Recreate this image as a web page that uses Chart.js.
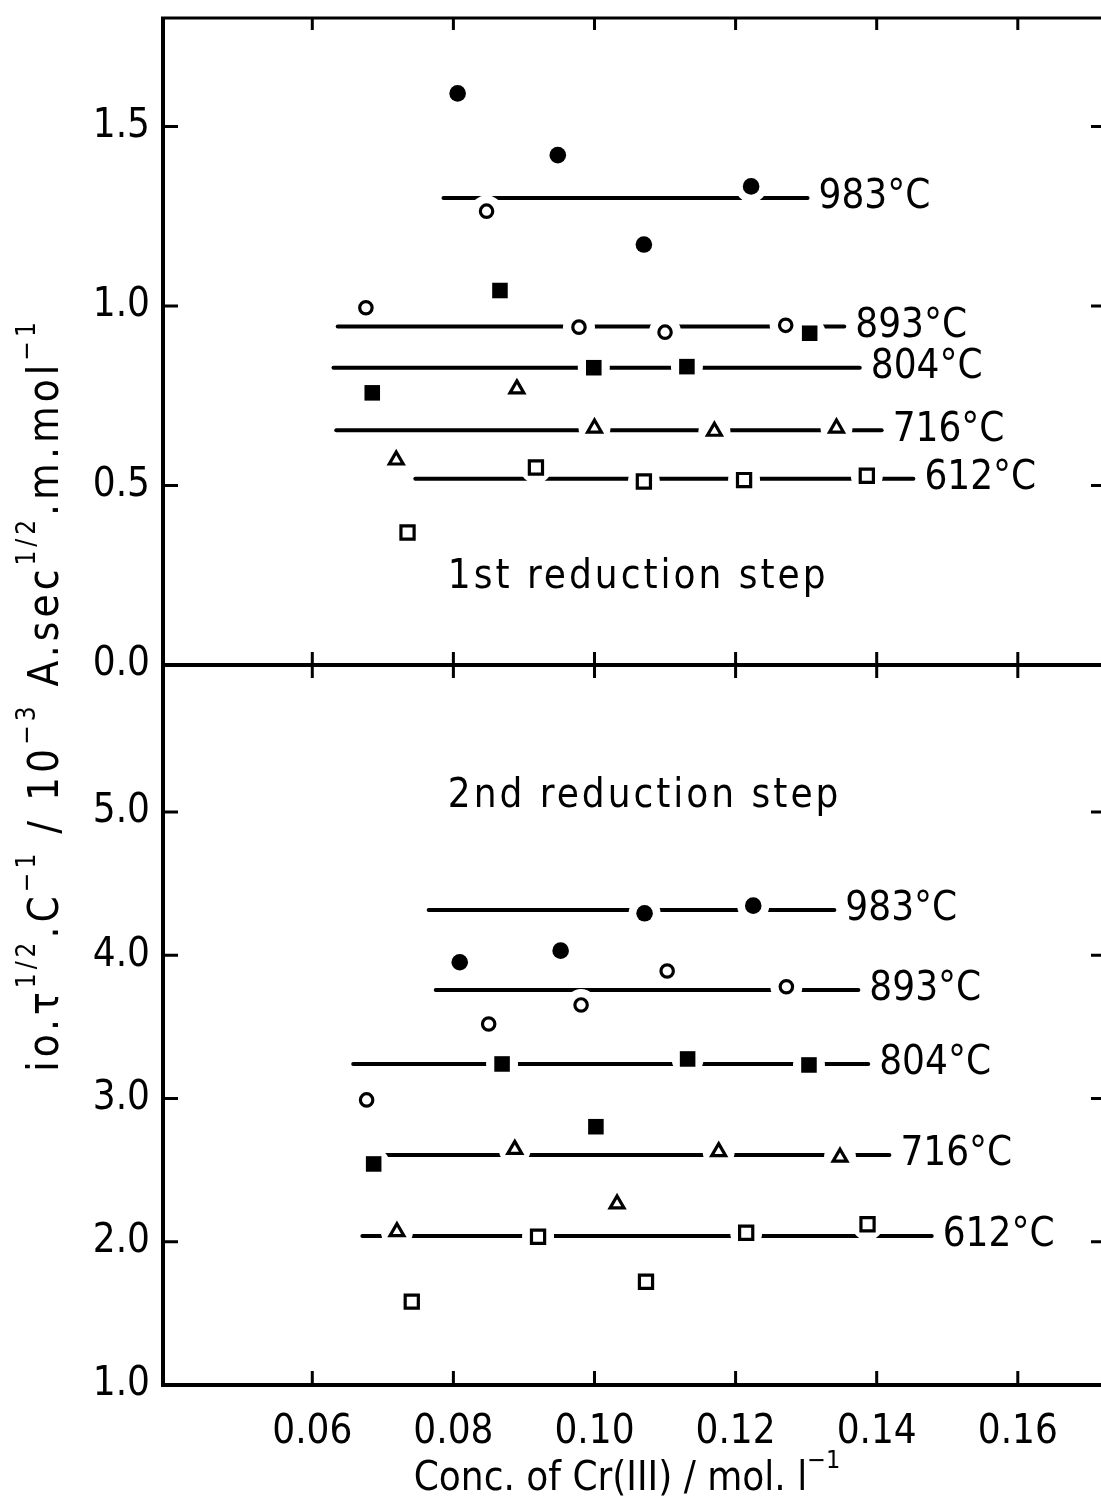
<!DOCTYPE html>
<html>
<head>
<meta charset="utf-8">
<title>Cr(III) reduction steps</title>
<script src="https://cdn.jsdelivr.net/npm/chart.js@4.4.1/dist/chart.umd.min.js"></script>
<style>
  html, body { margin: 0; padding: 0; background: #fff; overflow: hidden; }
  #chart { position: absolute; left: 0; top: 0; }
</style>
</head>
<body>
<canvas id="chart" width="1121" height="1501"></canvas>
<script>
// temperatures, same order for both panels
const temps = ['983°C', '893°C', '804°C', '716°C', '612°C'];

const xTicks = [0.06, 0.08, 0.10, 0.12, 0.14, 0.16];
const topTicks = [0.0, 0.5, 1.0, 1.5];
const bottomTicks = [1.0, 2.0, 3.0, 4.0, 5.0];

// 1st reduction step (top panel)
const conc1st983 = [0.0806, 0.0948, 0.1070, 0.1222];
const val1st983 = [1.592, 1.420, 1.171, 1.333];
const conc1st893 = [0.0676, 0.0847, 0.0978, 0.1100, 0.1271];
const val1st893 = [0.995, 1.264, 0.941, 0.927, 0.946];
const conc1st804 = [0.0685, 0.0866, 0.0999, 0.1131, 0.1305];
const val1st804 = [0.758, 1.043, 0.828, 0.831, 0.924];
const conc1st716 = [0.0719, 0.0890, 0.1000, 0.1170, 0.1343];
const val1st716 = [0.571, 0.769, 0.660, 0.651, 0.660];
const conc1st612 = [0.0735, 0.0917, 0.1070, 0.1212, 0.1386];
const val1st612 = [0.369, 0.550, 0.511, 0.515, 0.527];

// mean lines of the 1st step: level and concentration span
const mean1st = [1.301, 0.943, 0.828, 0.654, 0.519];
const from1st = [0.0786, 0.0636, 0.0630, 0.0634, 0.0746];
const to1st = [0.1302, 0.1354, 0.1376, 0.1407, 0.1452];

// 2nd reduction step (bottom panel)
const conc2nd983 = [0.0809, 0.0952, 0.1071, 0.1225];
const val2nd983 = [3.951, 4.032, 4.293, 4.346];
const conc2nd893 = [0.0677, 0.0850, 0.0981, 0.1103, 0.1272];
const val2nd893 = [2.990, 3.520, 3.653, 3.890, 3.780];
const conc2nd804 = [0.0687, 0.0869, 0.1002, 0.1132, 0.1304];
const val2nd804 = [2.543, 3.241, 2.803, 3.276, 3.234];
const conc2nd716 = [0.0720, 0.0887, 0.1032, 0.1176, 0.1348];
const val2nd716 = [2.070, 2.645, 2.264, 2.629, 2.590];
const conc2nd612 = [0.0741, 0.0920, 0.1073, 0.1215, 0.1387];
const val2nd612 = [1.582, 2.035, 1.721, 2.063, 2.122];

const mean2nd = [4.316, 3.757, 3.241, 2.606, 2.040];
const from2nd = [0.0765, 0.0775, 0.0658, 0.0678, 0.0671];
const to2nd = [0.1340, 0.1374, 0.1388, 0.1418, 0.1478];

const FONT = "'DejaVu Sans Condensed', 'DejaVu Sans', sans-serif";

// symbols: filled circle, open circle, filled square, open triangle, open square
const markers = [
    { style: 'circle', fill: '#000', radius: 8.3, border: 0 },
    { style: 'circle', fill: '#fff', radius: 6.2, border: 3.2 },
    { style: 'rect', fill: '#000', radius: 11, border: 0 },
    { style: 'triangle', fill: '#fff', radius: 8, border: 3.2 },
    { style: 'rect', fill: '#fff', radius: 9.3, border: 3.2 }
];

const steps = [
    { axis: 'yTop', conc: [conc1st983, conc1st893, conc1st804, conc1st716, conc1st612],
      vals: [val1st983, val1st893, val1st804, val1st716, val1st612],
      mean: mean1st, from: from1st, to: to1st },
    { axis: 'yBot', conc: [conc2nd983, conc2nd893, conc2nd804, conc2nd716, conc2nd612],
      vals: [val2nd983, val2nd893, val2nd804, val2nd716, val2nd612],
      mean: mean2nd, from: from2nd, to: to2nd }
];

const datasets = [];
steps.forEach(step => {
    temps.forEach((t, i) => {
        const pts = step.conc[i].map((c, k) => ({ x: c, y: step.vals[i][k] }));
        datasets.push({
            label: t + ' mean',
            data: [{ x: step.from[i], y: step.mean[i] }, { x: step.to[i], y: step.mean[i] }],
            yAxisID: step.axis,
            showLine: true,
            borderColor: '#000',
            borderWidth: 4,
            borderCapStyle: 'round',
            pointRadius: 0,
            order: 3
        });
        // white halo that breaks the mean line around each symbol
        datasets.push({
            label: t + ' gap',
            data: pts,
            yAxisID: step.axis,
            pointRadius: 16,
            pointBackgroundColor: '#fff',
            pointBorderWidth: 0,
            order: 2
        });
        const m = markers[i];
        datasets.push({
            label: t,
            data: pts,
            yAxisID: step.axis,
            pointStyle: m.style,
            pointRadius: m.radius,
            pointBackgroundColor: m.fill,
            pointBorderColor: '#000',
            pointBorderWidth: m.border,
            order: 1
        });
    });
});

function setTicks(list) {
    return scale => { scale.ticks = list.map(v => ({ value: v })); };
}

function noPadding(size) {
    return scale => {
        if (scale.isHorizontal()) scale.height = size; else scale.width = size;
        scale.paddingTop = 0; scale.paddingBottom = 0;
        scale.paddingLeft = 0; scale.paddingRight = 0;
    };
}

const tickFont = { family: FONT, size: 40 };

// text runs with superscripts, drawn along the baseline from x
function runsWidth(ctx, runs, size) {
    let w = 0;
    runs.forEach(r => {
        ctx.font = (r.sup ? Math.round(size * 0.62) : size) + 'px ' + FONT;
        w += ctx.measureText(r.t).width;
    });
    return w;
}
function drawRuns(ctx, runs, x, y, size) {
    runs.forEach(r => {
        const s = r.sup ? Math.round(size * 0.62) : size;
        ctx.font = s + 'px ' + FONT;
        ctx.fillText(r.t, x, r.sup ? y - size * 0.55 : y);
        x += ctx.measureText(r.t).width;
    });
}

const yTitle = [
    { t: 'io.τ' }, { t: '1/2', sup: true }, { t: '.C' }, { t: '−1', sup: true },
    { t: ' / 10' }, { t: '−3', sup: true }, { t: ' A.sec' }, { t: '1/2', sup: true },
    { t: '.m.mol' }, { t: '−1', sup: true }
];
const xTitle = [{ t: 'Conc. of Cr(III) / mol. l' }, { t: '−1', sup: true }];
const panelText = ['1st reduction step', '2nd reduction step'];
const panelTextAt = [{ x: 0.0792, y: 0.243 }, { x: 0.0792, y: 5.11 }];

const framePlugin = {
    id: 'frame',
    afterDraw(chart) {
        const ctx = chart.ctx;
        const a = chart.chartArea;
        const xs = chart.scales.x, yt = chart.scales.yTop, yb = chart.scales.yBot;
        const mid = yt.getPixelForValue(0);
        ctx.save();
        ctx.strokeStyle = '#000';
        ctx.lineWidth = 4;
        ctx.lineCap = 'butt';
        ctx.beginPath();
        ctx.moveTo(a.left, a.top); ctx.lineTo(a.left, a.bottom);
        ctx.moveTo(a.right, a.top); ctx.lineTo(a.right, a.bottom);
        ctx.moveTo(a.left - 2, a.bottom); ctx.lineTo(a.right, a.bottom);
        ctx.moveTo(a.left - 2, mid); ctx.lineTo(a.right, mid);
        ctx.stroke();
        ctx.lineWidth = 3;
        ctx.beginPath();
        ctx.moveTo(a.left - 2, a.top); ctx.lineTo(a.right, a.top);
        ctx.stroke();

        ctx.lineWidth = 3;
        ctx.beginPath();
        xTicks.forEach(v => {
            const px = xs.getPixelForValue(v);
            ctx.moveTo(px, a.bottom); ctx.lineTo(px, a.bottom - 14);
            ctx.moveTo(px, mid - 13); ctx.lineTo(px, mid + 13);
            ctx.moveTo(px, a.top); ctx.lineTo(px, a.top + 12);
        });
        [[yt, topTicks], [yb, bottomTicks]].forEach(([sc, list]) => {
            list.forEach(v => {
                const py = sc.getPixelForValue(v);
                ctx.moveTo(a.left, py); ctx.lineTo(a.left + 15, py);
                ctx.moveTo(a.right, py); ctx.lineTo(a.right - 14, py);
            });
        });
        ctx.stroke();

        // temperature labels at the end of each mean line
        ctx.fillStyle = '#000';
        ctx.textBaseline = 'middle';
        ctx.textAlign = 'left';
        ctx.font = '40px ' + FONT;
        steps.forEach(step => {
            const sc = chart.scales[step.axis];
            temps.forEach((t, i) => {
                ctx.fillText(t, xs.getPixelForValue(step.to[i]) + 11, sc.getPixelForValue(step.mean[i]));
            });
        });
        ctx.letterSpacing = '3px';
        panelText.forEach((t, i) => {
            const sc = i === 0 ? yt : yb;
            ctx.fillText(t, xs.getPixelForValue(panelTextAt[i].x), sc.getPixelForValue(panelTextAt[i].y));
        });

        // axis titles
        ctx.letterSpacing = '0px';
        ctx.textBaseline = 'alphabetic';
        const xw = runsWidth(ctx, xTitle, 40);
        drawRuns(ctx, xTitle, 627 - xw / 2, 1490, 40);

        ctx.letterSpacing = '4px';
        ctx.translate(58, 695);
        ctx.rotate(-Math.PI / 2);
        const yw = runsWidth(ctx, yTitle, 42);
        drawRuns(ctx, yTitle, -yw / 2, 0, 42);
        ctx.restore();
    }
};

new Chart(document.getElementById('chart'), {
    type: 'scatter',
    data: { datasets },
    options: {
        responsive: false,
        animation: false,
        devicePixelRatio: 1,
        layout: { padding: { top: 18, right: 3, left: 0, bottom: 0 } },
        plugins: { legend: { display: false }, tooltip: { enabled: false } },
        scales: {
            x: {
                type: 'linear',
                position: 'bottom',
                min: 0.03884,
                max: 0.17236,
                afterBuildTicks: setTicks(xTicks),
                afterFit: noPadding(116),
                grid: { display: false, drawTicks: false },
                border: { display: false },
                ticks: { font: tickFont, color: '#000', padding: 24, maxRotation: 0,
                         callback: v => v.toFixed(2) }
            },
            yBot: {
                type: 'linear',
                position: 'left',
                stack: 'panels',
                stackWeight: 720,
                min: 1.0,
                max: 6.026,
                afterBuildTicks: setTicks(bottomTicks),
                afterFit: noPadding(163),
                grid: { display: false, drawTicks: false },
                border: { display: false },
                ticks: { font: tickFont, color: '#000', padding: 13, callback: v => v.toFixed(1) }
            },
            yTop: {
                type: 'linear',
                position: 'left',
                stack: 'panels',
                stackWeight: 647,
                min: 0.0,
                max: 1.802,
                afterBuildTicks: setTicks(topTicks),
                afterFit: noPadding(163),
                grid: { display: false, drawTicks: false },
                border: { display: false },
                ticks: { font: tickFont, color: '#000', padding: 13, callback: v => v.toFixed(1) }
            }
        }
    },
    plugins: [framePlugin]
});
</script>
</body>
</html>
